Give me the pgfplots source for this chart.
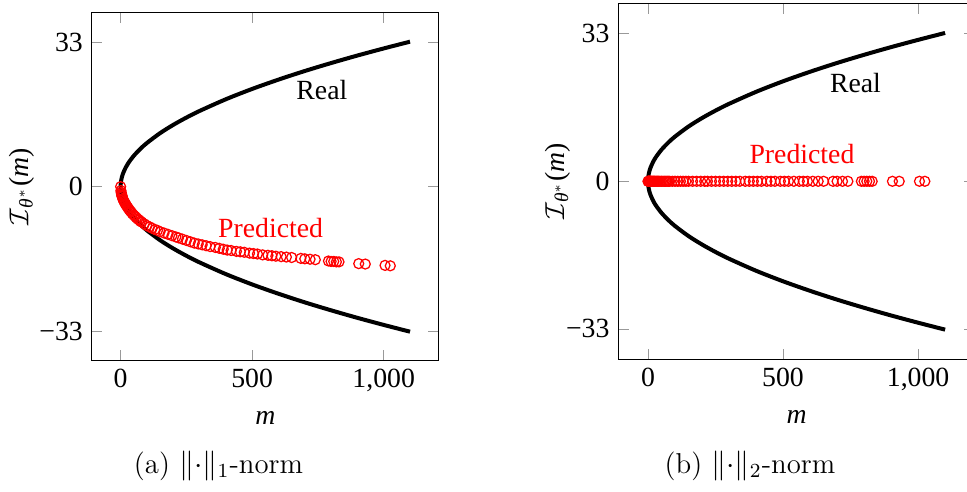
\documentclass[border=0pt]{standalone}
\usepackage{pgfplots}
\pgfplotsset{compat=1.18}
\usepackage{fontspec}
\newfontfamily\tms{Liberation Serif}

\pgfplotstableread{
m v
0 0
1 -0.9
2 -1.3
3 -1.6
4 -1.9
5 -2.1
6 -2.3
8 -2.7
10 -3.0
12 -3.3
15 -3.6
18 -3.9
20 -4.1
23 -4.4
26 -4.7
30 -5.0
33 -5.3
37 -5.6
40 -5.8
45 -6.2
50 -6.5
55 -6.8
60 -7.1
65 -7.4
70 -7.6
75 -7.9
80 -8.1
90 -8.5
100 -8.9
110 -9.2
120 -9.5
130 -9.8
140 -10.0
150 -10.3
165 -10.6
180 -10.9
195 -11.2
210 -11.5
220 -11.7
235 -12.0
250 -12.3
265 -12.6
280 -12.9
295 -13.1
310 -13.3
325 -13.5
340 -13.7
360 -13.9
375 -14.1
390 -14.3
405 -14.5
420 -14.6
440 -14.8
455 -14.9
470 -15.0
490 -15.2
505 -15.3
520 -15.4
540 -15.6
560 -15.7
575 -15.8
590 -15.9
610 -16.0
630 -16.1
650 -16.2
685 -16.4
700 -16.5
720 -16.6
740 -16.7
790 -17.0
800 -17.1
810 -17.1
820 -17.2
830 -17.2
905 -17.6
930 -17.7
1005 -18.0
1025 -18.1
}\predone

\pgfplotstableread{
m v
0 0
1 0
2 0
3 0
4 0
5 0
6 0
8 0
10 0
12 0
15 0
18 0
20 0
23 0
26 0
30 0
33 0
37 0
40 0
45 0
50 0
55 0
60 0
65 0
70 0
75 0
80 0
90 0
100 0
110 0
120 0
130 0
140 0
150 0
165 0
180 0
195 0
210 0
220 0
235 0
250 0
265 0
280 0
295 0
310 0
325 0
340 0
360 0
375 0
390 0
405 0
420 0
440 0
455 0
470 0
490 0
505 0
520 0
540 0
560 0
575 0
590 0
610 0
630 0
650 0
685 0
700 0
720 0
740 0
790 0
800 0
810 0
820 0
830 0
905 0
930 0
1005 0
1025 0
}\predtwo

\pgfplotstableread{
m v
1100 -33.17
1000 -31.62
900 -30
800 -28.28
700 -26.46
600 -24.49
500 -22.36
400 -20
300 -17.32
250 -15.81
200 -14.14
150 -12.25
100 -10
75 -8.66
50 -7.07
30 -5.48
20 -4.47
10 -3.16
5 -2.24
2 -1.41
1 -1
0.5 -0.71
0.2 -0.45
0.05 -0.22
0 0
0.05 0.22
0.2 0.45
0.5 0.71
1 1
2 1.41
5 2.24
10 3.16
20 4.47
30 5.48
50 7.07
75 8.66
100 10
150 12.25
200 14.14
250 15.81
300 17.32
400 20
500 22.36
600 24.49
700 26.46
800 28.28
900 30
1000 31.62
1100 33.17
}\real

\pgfplotsset{
  myax/.style={
    scale only axis,
    anchor=north west,
    xmin=-110, xmax=1210,
    ymin=-39.8, ymax=39.8,
    xtick={0,500,1000},
    xticklabels={0,500,{1,000}},
    ytick={-33,0,33},
    yticklabels={−33,0,33},
    font=\tms\fontsize{11.1}{13}\selectfont,
    major tick style={gray!80},
    xlabel={\textit{m}},
    xlabel shift=1pt,
    ylabel={$\mathcal{I}$\textsubscript{\itshape θ$^{*}$}(\textit{m})},
  },
  realstyle/.style={black, line width=1.6pt, smooth},
  predstyle/.style={only marks, mark=o, red, mark size=2pt, mark options={line width=0.5pt}},
}

\begin{document}
\begin{tikzpicture}
\path[use as bounding box] (0,-196.8pt) rectangle (386.8pt,0);
\begin{axis}[myax, at={(36.68pt,-5.08pt)}, width=138.9pt, height=139.2pt, ylabel shift=-4.8pt]
  \addplot[realstyle] table[x=m,y=v] {\real};
  \addplot[predstyle] table[x=m,y=v] {\predone};
  \node[black] at (axis cs:765,22) {Real};
  \node[red] at (axis cs:570,-9.5) {Predicted};
\end{axis}
\begin{axis}[myax, at={(247.32pt,-1.32pt)}, width=142.6pt, height=142.4pt, ylabel shift=-8.4pt]
  \addplot[realstyle] table[x=m,y=v] {\real};
  \addplot[predstyle] table[x=m,y=v] {\predtwo};
  \node[black] at (axis cs:768,22) {Real};
  \node[red] at (axis cs:570,6.2) {Predicted};
\end{axis}
\node[anchor=base, font=\fontsize{11.5}{14}\selectfont] at (87.4pt,-189.2pt) {(a) $\|{\cdot}\|_1$-norm};
\node[anchor=base, font=\fontsize{11.5}{14}\selectfont] at (300pt,-189.2pt) {(b) $\|{\cdot}\|_2$-norm};
\end{tikzpicture}
\end{document}
